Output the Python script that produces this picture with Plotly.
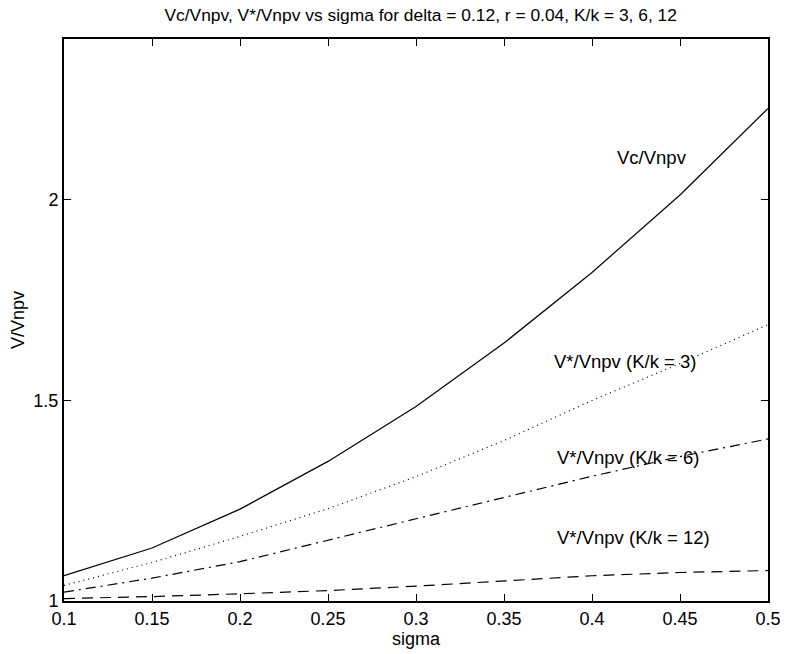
import plotly.graph_objects as go

sigma = [0.1, 0.15, 0.2, 0.25, 0.3, 0.35, 0.4, 0.45, 0.5]
vc_vnpv = [1.063, 1.132, 1.229, 1.348, 1.485, 1.643, 1.819, 2.012, 2.228]
vstar_k3 = [1.039, 1.096, 1.161, 1.230, 1.310, 1.400, 1.500, 1.592, 1.689]
vstar_k6 = [1.022, 1.057, 1.098, 1.152, 1.205, 1.258, 1.311, 1.360, 1.404]
vstar_k12 = [1.006, 1.011, 1.018, 1.026, 1.037, 1.050, 1.063, 1.071, 1.076]

x_ticks = [0.1, 0.15, 0.2, 0.25, 0.3, 0.35, 0.4, 0.45, 0.5]
x_ticktext = ["0.1", "0.15", "0.2", "0.25", "0.3", "0.35", "0.4", "0.45", "0.5"]
y_ticks = [1, 1.5, 2]
y_ticktext = ["1", "1.5", "2"]

labels = ["Vc/Vnpv", "V*/Vnpv (K/k = 3)", "V*/Vnpv (K/k = 6)", "V*/Vnpv (K/k = 12)"]
label_x = [0.413, 0.377, 0.379, 0.379]
label_y = [2.105, 1.596, 1.357, 1.159]

FONT = "Liberation Sans, Arial, Helvetica, sans-serif"
FS = 18

fig = go.Figure()
series = [vc_vnpv, vstar_k3, vstar_k6, vstar_k12]
dashes = ["solid", "1px,4px", "10px,5px,2px,5px", "11px,7px"]
for ys, d in zip(series, dashes):
    fig.add_trace(go.Scatter(x=sigma, y=ys, mode="lines",
                             line=dict(color="black", width=1.2, dash=d),
                             showlegend=False, hoverinfo="skip"))

annotations = []
for t, ax, ay in zip(labels, label_x, label_y):
    annotations.append(dict(x=ax, y=ay, xref="x", yref="y", text=t,
                            showarrow=False, xanchor="left", yanchor="middle",
                            font=dict(family=FONT, size=18.5, color="black")))

annotations.append(dict(x=0.5, y=-0.0684, xref="paper", yref="paper", text="sigma",
                        showarrow=False, xanchor="center", yanchor="middle",
                        font=dict(family=FONT, size=FS, color="black")))
annotations.append(dict(x=-0.0654, y=0.5, xref="paper", yref="paper", text="V/Vnpv",
                        showarrow=False, xanchor="center", yanchor="middle", textangle=-90,
                        font=dict(family=FONT, size=FS, color="black")))

fig.update_layout(
    width=793, height=654,
    margin=dict(l=64, r=15, t=39, b=52.5, pad=0),
    paper_bgcolor="white", plot_bgcolor="white",
    title=dict(text="Vc/Vnpv, V*/Vnpv vs sigma for delta = 0.12, r = 0.04, K/k = 3, 6, 12",
               x=0.5305, xanchor="center", y=1 - 15 / 654, yanchor="middle",
               font=dict(family=FONT, size=17.4, color="black")),
    annotations=annotations,
    xaxis=dict(range=[0.1, 0.5], tickvals=x_ticks, ticktext=x_ticktext,
               showgrid=False, zeroline=False, showline=True, linecolor="black",
               linewidth=2, mirror="ticks", ticks="inside", ticklen=7, tickwidth=1,
               tickcolor="black", tickfont=dict(family=FONT, size=FS, color="black")),
    yaxis=dict(range=[1, 2.401], tickvals=y_ticks, ticktext=y_ticktext,
               showgrid=False, zeroline=False, showline=True, linecolor="black",
               linewidth=2, mirror="ticks", ticks="inside", ticklen=7, tickwidth=1,
               tickcolor="black", tickfont=dict(family=FONT, size=FS, color="black")),
)

fig.write_html("out.html")
